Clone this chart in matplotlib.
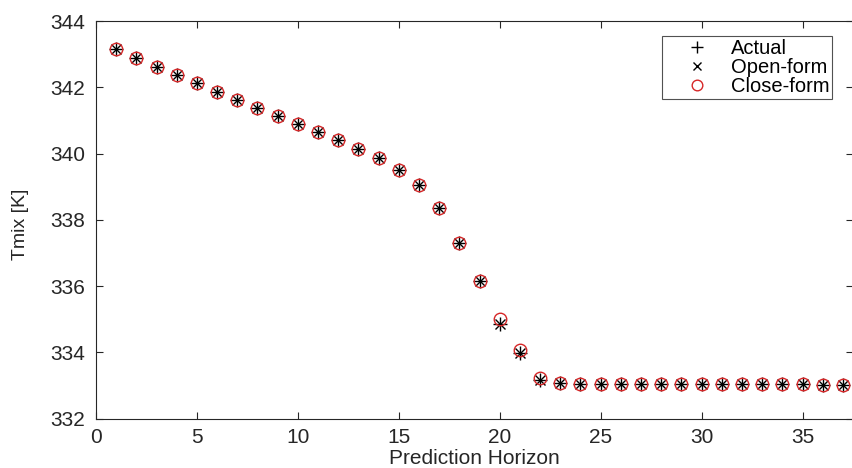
import numpy as np
import matplotlib
matplotlib.use("Agg")
import matplotlib.pyplot as plt

plt.rcParams['font.family'] = ['Liberation Sans', 'DejaVu Sans']

horizon = np.arange(1, 38)

actual = [343.16, 342.89, 342.61, 342.36, 342.13, 341.87, 341.62, 341.39, 341.14, 340.89,
          340.66, 340.41, 340.15, 339.87, 339.51, 339.04, 338.36, 337.30, 336.15, 334.87,
          333.97, 333.18, 333.07, 333.06, 333.05, 333.05, 333.05, 333.05, 333.05, 333.05,
          333.05, 333.05, 333.05, 333.04, 333.04, 333.03, 333.03]
open_form = [343.16, 342.89, 342.61, 342.36, 342.13, 341.87, 341.62, 341.39, 341.14, 340.89,
             340.66, 340.41, 340.15, 339.87, 339.51, 339.04, 338.36, 337.30, 336.15, 334.87,
             333.97, 333.18, 333.07, 333.06, 333.05, 333.05, 333.05, 333.05, 333.05, 333.05,
             333.05, 333.05, 333.05, 333.04, 333.04, 333.03, 333.03]
close_form = [343.16, 342.89, 342.61, 342.36, 342.13, 341.87, 341.62, 341.39, 341.14, 340.89,
              340.66, 340.41, 340.15, 339.87, 339.51, 339.04, 338.36, 337.30, 336.15, 335.01,
              334.08, 333.24, 333.07, 333.06, 333.05, 333.05, 333.05, 333.05, 333.05, 333.05,
              333.05, 333.05, 333.05, 333.04, 333.04, 333.03, 333.03]

fig = plt.figure(figsize=(8.53, 4.68), dpi=100)
ax = fig.add_axes([0.1125, 0.1055, 0.8875, 0.8495])

ax.plot(horizon, actual, '+', color='black', ms=10, mew=1.0, label='Actual')
ax.plot(horizon, open_form, 'x', color='black', ms=7, mew=1.0, label='Open-form')
ax.plot(horizon, close_form, 'o', mfc='none', mec='#d62728', ms=9, mew=1.0, label='Close-form')

ax.set_xlim(0, 37.5)
ax.set_ylim(332, 344)
ax.set_xticks(np.arange(0, 40, 5))
ax.set_yticks(np.arange(332, 345, 2))

ax.set_xlabel('Prediction Horizon', fontsize=15, color='#262626', labelpad=1)
ax.set_ylabel('Tmix [K]', fontsize=14, color='#262626')
ax.yaxis.set_label_coords(-0.088, 0.49)

ax.tick_params(direction='in', length=5, width=0.8, top=True, right=True,
               labelsize=15, colors='#262626')
ax.tick_params(axis='y', pad=8)
ax.tick_params(axis='x', pad=7)
for s in ax.spines.values():
    s.set_color('#262626')
    s.set_linewidth(0.8)

leg = ax.legend(loc='upper left', bbox_to_anchor=(0.748, 0.962), fontsize=14.5,
                frameon=True, fancybox=False, edgecolor='#262626', borderaxespad=0,
                handletextpad=0.05, borderpad=0.15, labelspacing=0.0, handlelength=3.2,
                markerscale=0.85)
leg.get_frame().set_linewidth(0.8)

fig.savefig('out.png', dpi=100)
